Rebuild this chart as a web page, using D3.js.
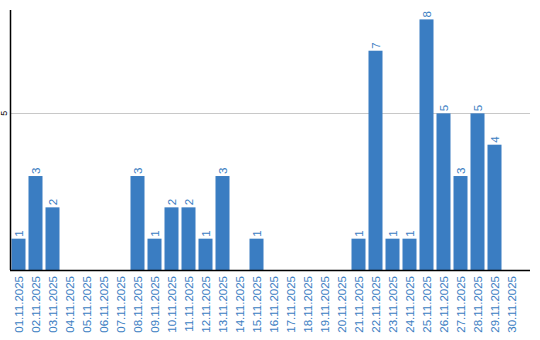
<!DOCTYPE html>
<html>
<head>
<meta charset="utf-8">
<script src="https://cdn.jsdelivr.net/npm/d3@7"></script>
<style>
  body { margin: 0; background: #fff; }
  text { font-family: "Liberation Sans", Arial, sans-serif; }
</style>
</head>
<body>
<div id="chart"></div>
<script>
const dates = [
  '01.11.2025', '02.11.2025', '03.11.2025', '04.11.2025', '05.11.2025',
  '06.11.2025', '07.11.2025', '08.11.2025', '09.11.2025', '10.11.2025',
  '11.11.2025', '12.11.2025', '13.11.2025', '14.11.2025', '15.11.2025',
  '16.11.2025', '17.11.2025', '18.11.2025', '19.11.2025', '20.11.2025',
  '21.11.2025', '22.11.2025', '23.11.2025', '24.11.2025', '25.11.2025',
  '26.11.2025', '27.11.2025', '28.11.2025', '29.11.2025', '30.11.2025'
];
const counts = [1, 3, 2, 0, 0, 0, 0, 3, 1, 2, 2, 1, 3, 0, 1, 0, 0, 0, 0, 0, 1, 7, 1, 1, 8, 5, 3, 5, 4, 0];
const yTicks = [5];
const yMax = 8.3;

const width = 540;
const height = 340;
const margin = { top: 10, right: 10, bottom: 70, left: 10 };
const barColor = '#3a7dc2';

const svg = d3.select('#chart')
  .append('svg')
  .attr('width', width)
  .attr('height', height);

// bands stop short of the axis end, like the original
const scaleX = d3.scaleBand()
  .domain(dates)
  .range([margin.left, margin.left + 510])
  .paddingInner(3 / 17)
  .paddingOuter(1.5 / 17);

const scaleY = d3.scaleLinear()
  .domain([0, yMax])
  .range([height - margin.bottom, margin.top]);

const x0 = margin.left;
const x1 = width - margin.right;
const y0 = height - margin.bottom;

// grid line
svg.append('g')
  .selectAll('line')
  .data(yTicks)
  .join('line')
  .attr('x1', x0)
  .attr('x2', x1)
  .attr('y1', d => Math.round(scaleY(d)) + 0.5)
  .attr('y2', d => Math.round(scaleY(d)) + 0.5)
  .attr('stroke', '#c8c8c8');

// y tick labels, rotated
svg.append('g')
  .selectAll('text')
  .data(yTicks)
  .join('text')
  .attr('transform', d => `translate(${x0 - 3}, ${scaleY(d)}) rotate(-90)`)
  .attr('text-anchor', 'middle')
  .attr('font-size', '9px')
  .attr('fill', '#000')
  .text(d => d);

// bars
const data = dates.map((d, i) => ({ date: d, value: counts[i] })).filter(d => d.value > 0);

svg.append('g')
  .selectAll('rect')
  .data(data)
  .join('rect')
  .attr('x', d => scaleX(d.date))
  .attr('y', d => scaleY(d.value))
  .attr('width', scaleX.bandwidth())
  .attr('height', d => y0 - scaleY(d.value))
  .attr('fill', barColor);

// value labels
svg.append('g')
  .selectAll('text')
  .data(data)
  .join('text')
  .attr('transform', d => `translate(${scaleX(d.date) + scaleX.bandwidth() / 2}, ${scaleY(d.value) - 2}) rotate(-90)`)
  .attr('text-anchor', 'start')
  .attr('dy', '0.35em')
  .attr('font-size', '11.5px')
  .attr('fill', barColor)
  .text(d => d.value);

// x labels
svg.append('g')
  .selectAll('text')
  .data(dates)
  .join('text')
  .attr('transform', d => `translate(${scaleX(d) + scaleX.bandwidth() / 2}, ${y0 + 6}) rotate(-90)`)
  .attr('text-anchor', 'end')
  .attr('dy', '0.35em')
  .attr('font-size', '11.5px')
  .attr('fill', barColor)
  .text(d => d);

// axis lines
svg.append('line')
  .attr('x1', x0 + 0.5)
  .attr('x2', x0 + 0.5)
  .attr('y1', margin.top)
  .attr('y2', y0)
  .attr('stroke', '#000')
  .attr('stroke-width', 1.5);

svg.append('line')
  .attr('x1', x0)
  .attr('x2', x1)
  .attr('y1', y0 + 0.5)
  .attr('y2', y0 + 0.5)
  .attr('stroke', '#000')
  .attr('stroke-width', 1.5);
</script>
</body>
</html>
